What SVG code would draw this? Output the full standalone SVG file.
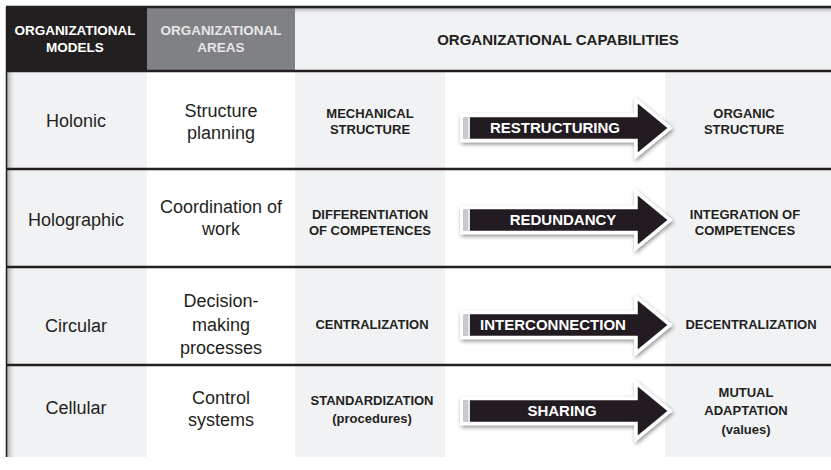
<svg xmlns="http://www.w3.org/2000/svg" width="831" height="470" viewBox="0 0 831 470">
<defs>
<style>
.hd{font-family:"Liberation Sans",Arial,sans-serif;font-weight:bold;text-anchor:middle}
.rg{font-family:"Liberation Sans",Arial,sans-serif;font-size:18px;fill:#231f20;text-anchor:middle}
.cap{font-family:"Liberation Sans",Arial,sans-serif;font-weight:bold;font-size:13px;fill:#231f20;text-anchor:middle}
.sm{font-family:"Liberation Sans",Arial,sans-serif;font-weight:bold;font-size:12px;fill:#231f20;text-anchor:middle}
.at{font-family:"Liberation Sans",Arial,sans-serif;font-weight:bold;font-size:15px;fill:#ffffff;text-anchor:middle}
.g{fill:#f1f2f4}
.w{fill:#ffffff}
.ln{stroke:#231f20;stroke-width:2.6}
.arr{fill:#231f20;stroke:#ffffff;stroke-width:3.5;stroke-linejoin:miter;filter:url(#sh)}
</style>
<linearGradient id="lg" x1="0" y1="0" x2="1" y2="0">
<stop offset="0" stop-color="#a9aaac"/>
<stop offset="1" stop-color="#f1f2f4" stop-opacity="0"/>
</linearGradient>
<linearGradient id="tg" x1="0" y1="0" x2="0" y2="1">
<stop offset="0" stop-color="#a9aaac"/>
<stop offset="1" stop-color="#f1f2f4" stop-opacity="0"/>
</linearGradient>
<filter id="sh" x="-10%" y="-40%" width="120%" height="180%">
<feGaussianBlur in="SourceAlpha" stdDeviation="2"/>
<feOffset dx="1" dy="2" result="b"/>
<feComponentTransfer><feFuncA type="linear" slope="0.45"/></feComponentTransfer>
<feMerge><feMergeNode/><feMergeNode in="SourceGraphic"/></feMerge>
</filter>
<g id="arrow">
<path class="arr" d="M0,-12.5 H174 V-28 L208,0 L174,28 V12.5 H0 Z"/>
<rect x="2" y="-11" width="4" height="22" fill="#c8c9cb"/>
<rect x="6" y="-11" width="2" height="22" fill="#e6e7e8"/>
</g>
</defs>
<rect width="831" height="470" fill="#ffffff"/>

<g id="header">
<rect x="6" y="7" width="141" height="64" fill="#231f20"/>
<rect x="147" y="7" width="148" height="64" fill="#808184"/>
<rect x="295" y="7" width="536" height="64" fill="#f1f2f4"/>
<rect x="295" y="8" width="536" height="7" fill="url(#tg)"/>
<text class="hd" x="75" y="35" font-size="13.5" fill="#ffffff">ORGANIZATIONAL</text>
<text class="hd" x="75" y="52" font-size="13.5" fill="#ffffff">MODELS</text>
<text class="hd" x="221" y="35" font-size="13.5" fill="#e6e7e8">ORGANIZATIONAL</text>
<text class="hd" x="221" y="52" font-size="13.5" fill="#e6e7e8">AREAS</text>
<text class="hd" x="558" y="45" font-size="15" fill="#231f20">ORGANIZATIONAL CAPABILITIES</text>
</g>

<g id="columns">
<rect class="g" x="6" y="71" width="141" height="386"/>
<rect class="w" x="147" y="71" width="148" height="386"/>
<rect class="g" x="295" y="71" width="150" height="386"/>
<rect class="w" x="445" y="71" width="220" height="386"/>
<rect class="g" x="665" y="71" width="166" height="386"/>
<rect x="7" y="71" width="9" height="386" fill="url(#lg)"/>
</g>

<g id="row-holonic">
<text class="rg" x="76" y="127">Holonic</text>
<text class="rg" x="221" y="117">Structure</text>
<text class="rg" x="221" y="139">planning</text>
<text class="cap" x="370" y="118">MECHANICAL</text>
<text class="cap" x="370" y="134">STRUCTURE</text>
<use href="#arrow" x="462" y="128"/>
<text class="at" x="555" y="133">RESTRUCTURING</text>
<text class="cap" x="744" y="118">ORGANIC</text>
<text class="cap" x="744" y="134">STRUCTURE</text>
</g>

<g id="row-holographic">
<text class="rg" x="76" y="226">Holographic</text>
<text class="rg" x="221" y="213">Coordination of</text>
<text class="rg" x="221" y="235">work</text>
<text class="cap" x="370" y="219">DIFFERENTIATION</text>
<text class="cap" x="370" y="235">OF COMPETENCES</text>
<use href="#arrow" x="462" y="220"/>
<text class="at" x="563" y="225">REDUNDANCY</text>
<text class="cap" x="745" y="219">INTEGRATION OF</text>
<text class="cap" x="745" y="235">COMPETENCES</text>
</g>

<g id="row-circular">
<text class="rg" x="76" y="332">Circular</text>
<text class="rg" x="221" y="307">Decision-</text>
<text class="rg" x="221" y="331">making</text>
<text class="rg" x="221" y="354">processes</text>
<text class="cap" x="372" y="329">CENTRALIZATION</text>
<use href="#arrow" x="462" y="325"/>
<text class="at" x="553" y="330">INTERCONNECTION</text>
<text class="cap" x="751" y="329">DECENTRALIZATION</text>
</g>

<g id="row-cellular">
<text class="rg" x="76" y="414">Cellular</text>
<text class="rg" x="221" y="404">Control</text>
<text class="rg" x="221" y="426">systems</text>
<text class="cap" x="372" y="405">STANDARDIZATION</text>
<text class="cap" x="372" y="423">(procedures)</text>
<use href="#arrow" x="462" y="411"/>
<text class="at" x="562" y="416">SHARING</text>
<text class="cap" x="746" y="397">MUTUAL</text>
<text class="cap" x="746" y="415">ADAPTATION</text>
<text class="cap" x="746" y="434">(values)</text>
</g>

<g id="lines">
<line class="ln" x1="6" y1="7" x2="831" y2="7"/>
<line class="ln" x1="6" y1="71" x2="831" y2="71"/>
<line class="ln" x1="6" y1="169" x2="831" y2="169"/>
<line class="ln" x1="6" y1="267" x2="831" y2="267"/>
<line class="ln" x1="6" y1="365" x2="831" y2="365"/>
<line x1="6.5" y1="7" x2="6.5" y2="457" stroke="#231f20" stroke-width="1.5"/>
</g>
</svg>
